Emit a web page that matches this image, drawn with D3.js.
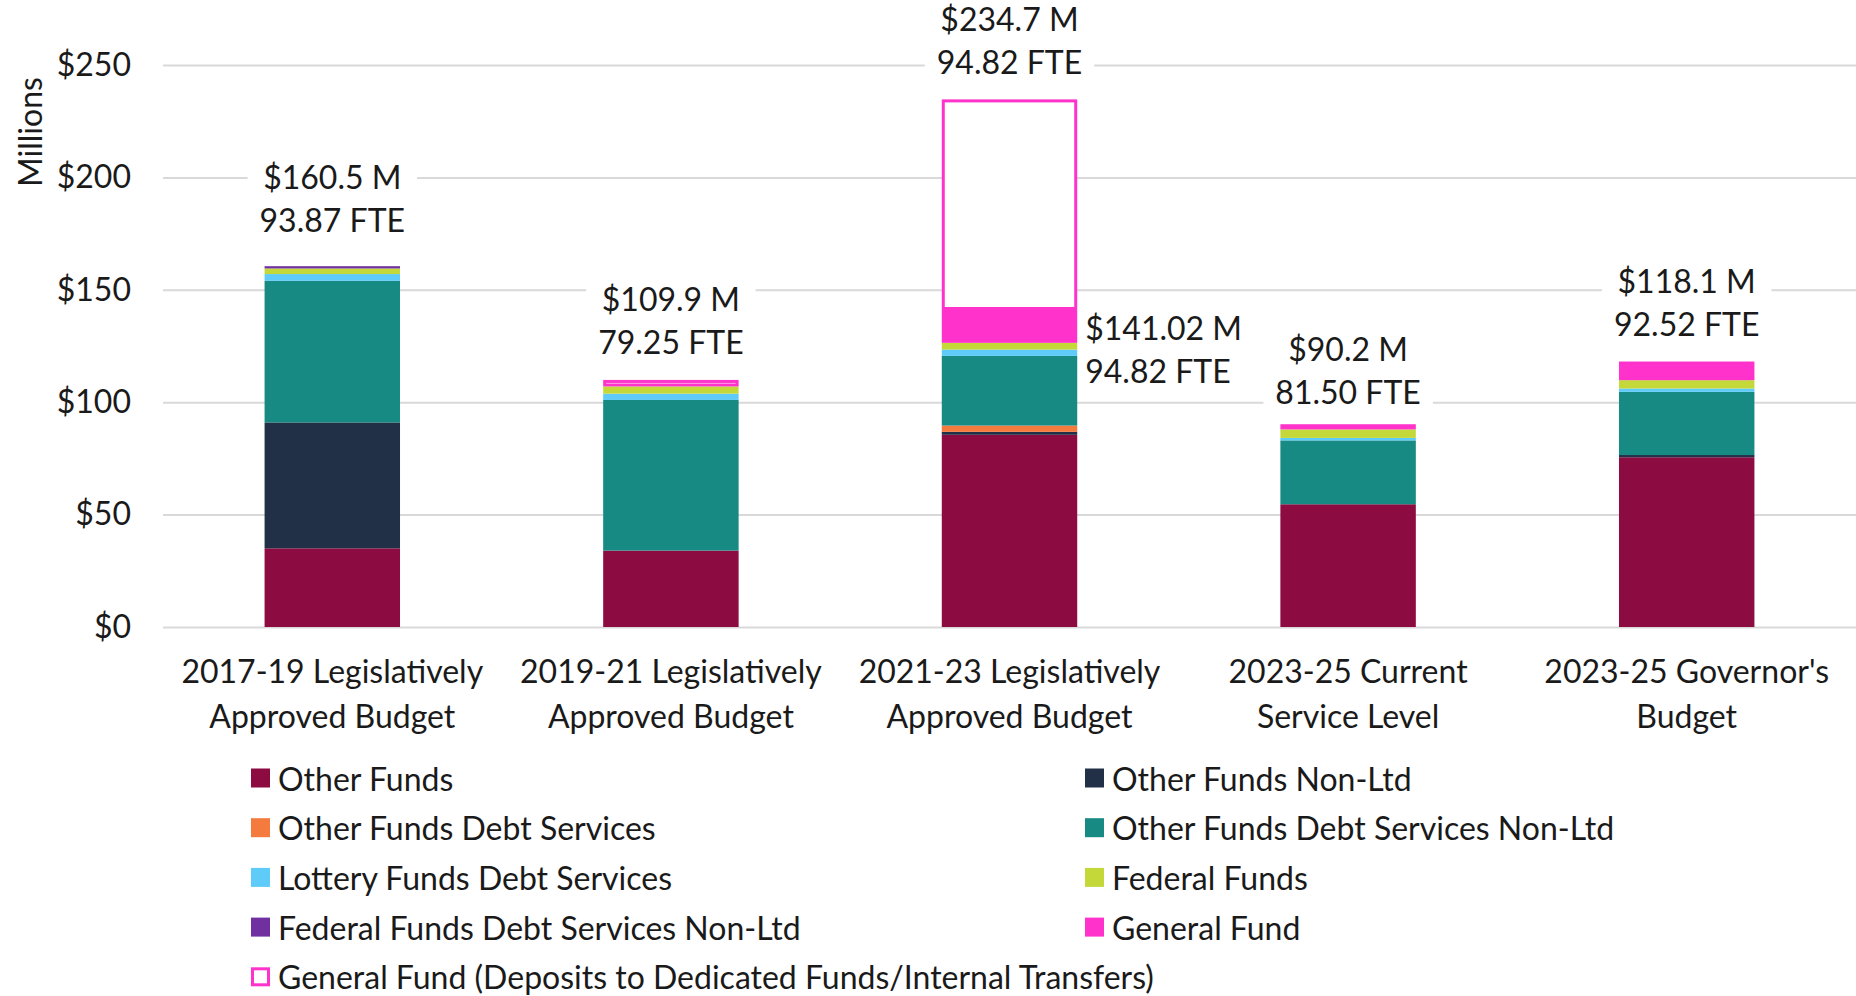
<!DOCTYPE html>
<html>
<head>
<meta charset="utf-8">
<script src="https://cdn.jsdelivr.net/npm/d3@7"></script>
<style>
  body { margin: 0; background: #fff; }
  text { font-family: Lato, "Noto Sans", sans-serif; fill: #1a1a1a; }
</style>
</head>
<body>
<div id="chart"></div>
<script>
// categories and series values ($ millions)
const categories = [
  ["2017-19 Legislatively", "Approved Budget"],
  ["2019-21 Legislatively", "Approved Budget"],
  ["2021-23 Legislatively", "Approved Budget"],
  ["2023-25 Current", "Service Level"],
  ["2023-25 Governor's", "Budget"]
];
const otherFunds          = [35.0, 34.0, 85.5, 54.6, 75.5];
const otherFundsNonLtd    = [56.0, 0.0, 1.3, 0.0, 1.0];
const otherFundsDebt      = [0.0, 0.0, 2.8, 0.0, 0.0];
const otherFundsDebtNonLtd = [63.0, 67.0, 31.0, 28.4, 28.1];
const lotteryFundsDebt    = [3.0, 2.8, 2.8, 1.1, 1.5];
const federalFunds        = [2.5, 3.2, 3.0, 3.8, 3.7];
const federalFundsDebtNonLtd = [1.0, 0.0, 0.0, 0.0, 0.0];
const generalFund         = [0.0, 0.0, 14.62, 2.3, 8.3];
const generalFundDeposits = [0.0, 2.9, 93.68, 0.0, 0.0];

const totalLabels = ["$160.5 M", "$109.9 M", "$234.7 M", "$90.2 M", "$118.1 M"];
const fteLabels   = ["93.87 FTE", "79.25 FTE", "94.82 FTE", "81.50 FTE", "92.52 FTE"];
const subLabel = { index: 2, lines: ["$141.02 M", "94.82 FTE"] };

const yTicks = [0, 50, 100, 150, 200, 250];

const series = [
  { key: "Other Funds", values: otherFunds, color: "#8c0b41" },
  { key: "Other Funds Non-Ltd", values: otherFundsNonLtd, color: "#223047" },
  { key: "Other Funds Debt Services", values: otherFundsDebt, color: "#f47b3d" },
  { key: "Other Funds Debt Services Non-Ltd", values: otherFundsDebtNonLtd, color: "#178a84" },
  { key: "Lottery Funds Debt Services", values: lotteryFundsDebt, color: "#5fcbf8" },
  { key: "Federal Funds", values: federalFunds, color: "#c5d83a" },
  { key: "Federal Funds Debt Services Non-Ltd", values: federalFundsDebtNonLtd, color: "#7030a0" },
  { key: "General Fund", values: generalFund, color: "#ff33cc" },
  { key: "General Fund (Deposits to Dedicated Funds/Internal Transfers)", values: generalFundDeposits, color: "#ff33cc", outline: true }
];

// table for d3.stack
const table = categories.map((c, i) => {
  const row = { cat: c.join(" ") };
  series.forEach(s => row[s.key] = s.values[i]);
  return row;
});

const W = 1856, H = 996;
const margin = { top: 65, right: 0, bottom: 369, left: 163 };
const width = W - margin.left - margin.right;
const height = H - margin.top - margin.bottom;
const fontSize = 32;

// the labels in the original were nudged by hand a little
const labelNudge = [-9, 0, 0, 5, 0];

const svg = d3.select("#chart").append("svg")
  .attr("width", W).attr("height", H)
  .attr("viewBox", [0, 0, W, H]);

const chart = svg.append("g")
  .attr("transform", `translate(${margin.left},${margin.top})`);

const xScale = d3.scaleBand()
  .domain(table.map(d => d.cat))
  .range([0, width])
  .paddingInner(0.6)
  .paddingOuter(0.3);

const yScale = d3.scaleLinear()
  .domain([0, 250])
  .range([height, 0]);

// gridlines
chart.append("g")
  .attr("class", "grid")
  .call(d3.axisLeft(yScale).tickValues(yTicks).tickSize(-width).tickFormat(""))
  .call(g => g.select(".domain").remove())
  .call(g => g.selectAll("line").attr("stroke", "#d9d9d9").attr("stroke-width", 2));

// y axis labels
chart.append("g")
  .attr("transform", "translate(-32,0)")
  .call(d3.axisLeft(yScale).tickValues(yTicks).tickSize(0).tickPadding(0).tickFormat(d => "$" + d))
  .call(g => g.select(".domain").remove())
  .call(g => g.selectAll("text").attr("font-size", fontSize).attr("fill", "#1a1a1a")
    .style("font-family", "Lato, sans-serif"));

svg.append("text")
  .attr("transform", "translate(29,132) rotate(-90)")
  .attr("text-anchor", "middle")
  .attr("dominant-baseline", "central")
  .attr("font-size", fontSize)
  .text("Millions");

// stacked bars
const stacked = d3.stack().keys(series.map(s => s.key))(table);

stacked.forEach((layer, li) => {
  const s = series[li];
  chart.append("g")
    .selectAll("rect")
    .data(layer.filter(d => d[1] - d[0] > 0))
    .join("rect")
    .attr("x", d => xScale(d.data.cat) + (s.outline ? 1.5 : 0))
    .attr("y", d => yScale(d[1]) + (s.outline ? 1.5 : 0))
    .attr("width", xScale.bandwidth() - (s.outline ? 3 : 0))
    .attr("height", d => yScale(d[0]) - yScale(d[1]) - (s.outline ? 3 : 0))
    .attr("fill", s.outline ? "#fff" : s.color)
    .attr("stroke", s.outline ? s.color : "none")
    .attr("stroke-width", s.outline ? 3 : 0);
});

// total labels with white background
const topLayer = stacked[stacked.length - 1];
const lineGap = 43;
const labels = chart.append("g");
topLayer.forEach((d, i) => {
  const cx = xScale(d.data.cat) + xScale.bandwidth() / 2;
  const yFte = yScale(d[1]) - 38 + labelNudge[i];
  const g = labels.append("g");
  const bg = g.append("rect").attr("fill", "#fff");
  const t = g.append("text")
    .attr("text-anchor", "middle")
    .attr("font-size", fontSize);
  t.append("tspan").attr("x", cx).attr("y", yFte - lineGap).attr("dominant-baseline", "central").text(totalLabels[i]);
  t.append("tspan").attr("x", cx).attr("y", yFte).attr("dominant-baseline", "central").text(fteLabels[i]);
  const bb = t.node().getBBox();
  bg.attr("x", bb.x - 12).attr("y", bb.y - 4).attr("width", bb.width + 24).attr("height", bb.height + 8);
});

// label for the bar without the deposits
{
  const i = subLabel.index;
  const cat = table[i].cat;
  const gfTop = stacked[series.length - 2][i][1];
  const x0 = xScale(cat) + xScale.bandwidth() + 8;
  const y0 = yScale(gfTop) + 18;
  const g = labels.append("g");
  const bg = g.append("rect").attr("fill", "#fff");
  const t = g.append("text").attr("font-size", fontSize);
  subLabel.lines.forEach((l, k) => t.append("tspan")
    .attr("x", x0).attr("y", y0 + k * lineGap).attr("dominant-baseline", "central").text(l));
  const bb = t.node().getBBox();
  bg.attr("x", bb.x - 4).attr("y", bb.y - 4).attr("width", bb.width + 12).attr("height", bb.height + 8);
}

// x axis category labels
const xLab = chart.append("g");
table.forEach((d, i) => {
  const cx = xScale(d.cat) + xScale.bandwidth() / 2;
  const t = xLab.append("text").attr("text-anchor", "middle").attr("font-size", fontSize);
  categories[i].forEach((l, k) => t.append("tspan")
    .attr("x", cx).attr("y", height + 43 + k * 45).attr("dominant-baseline", "central").text(l));
});

// legend
const legend = svg.append("g");
const colX = [251, 1085];
const rowY0 = 778, rowGap = 49.7;
series.forEach((s, i) => {
  const col = i % 2, row = Math.floor(i / 2);
  const g = legend.append("g")
    .attr("transform", `translate(${colX[col]},${rowY0 + row * rowGap})`);
  g.append("rect")
    .attr("x", s.outline ? 1.5 : 0).attr("y", s.outline ? -8 : -9.5)
    .attr("width", s.outline ? 16 : 19).attr("height", s.outline ? 16 : 19)
    .attr("fill", s.outline ? "#fff" : s.color)
    .attr("stroke", s.outline ? s.color : "none")
    .attr("stroke-width", s.outline ? 3 : 0);
  g.append("text")
    .attr("x", 27).attr("y", 0)
    .attr("dominant-baseline", "central")
    .attr("font-size", fontSize)
    .text(s.key);
});
</script>
</body>
</html>
